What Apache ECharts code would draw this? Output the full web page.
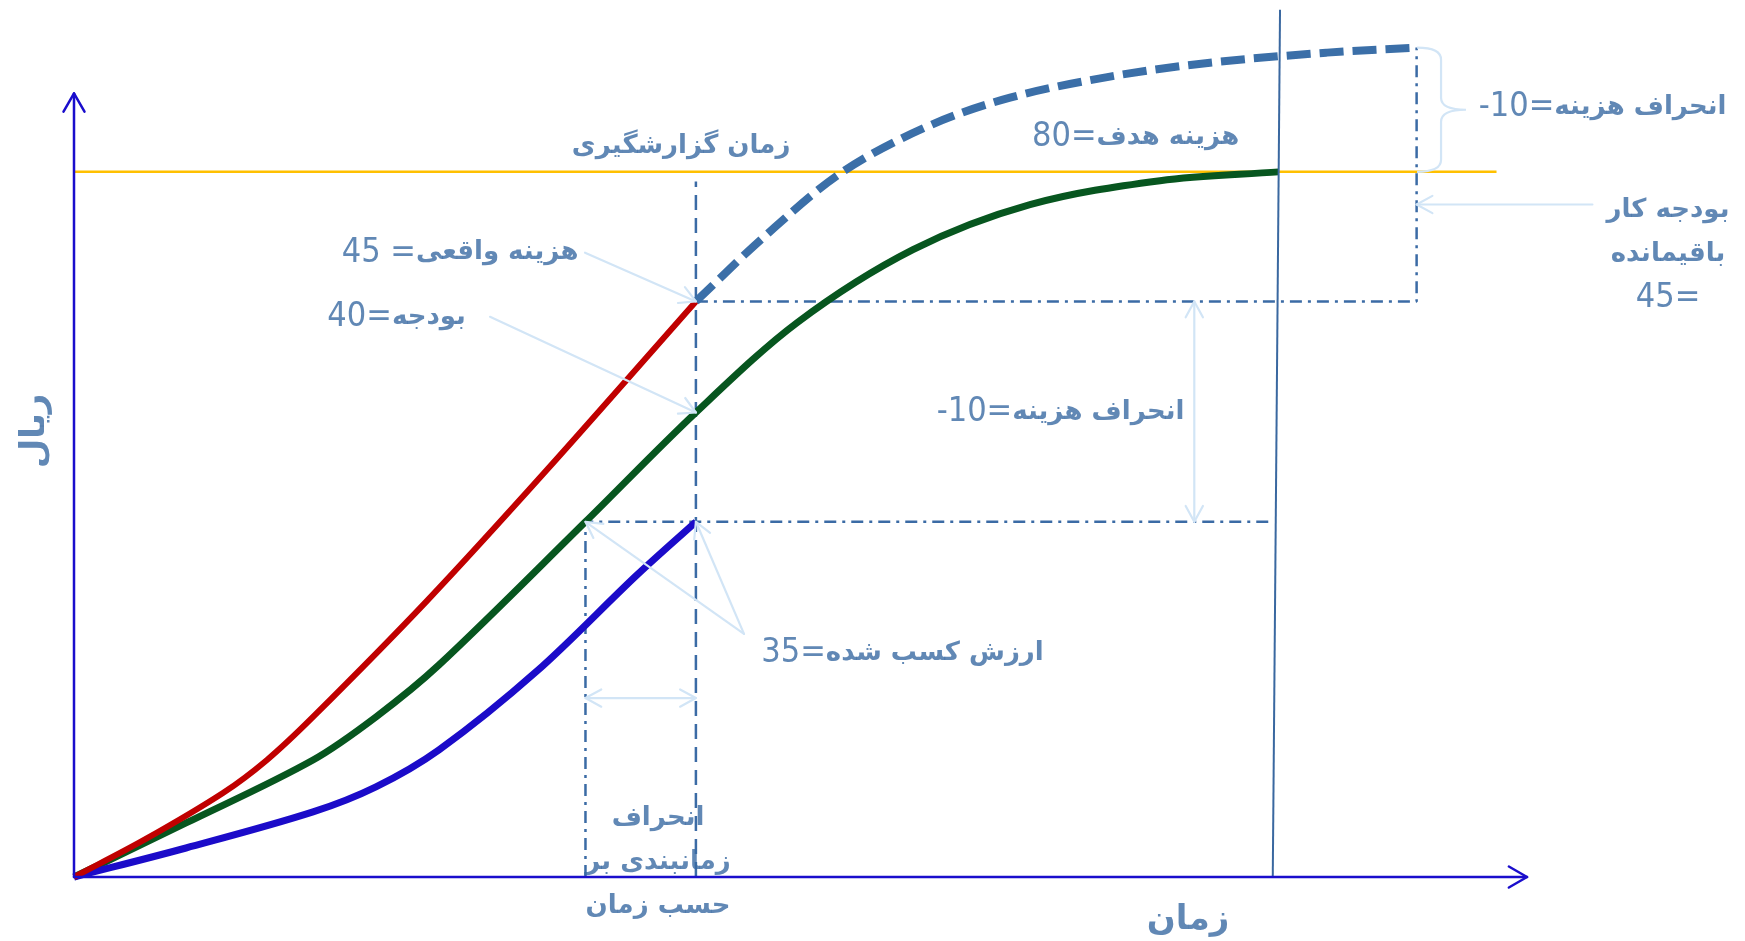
<!DOCTYPE html>
<html lang="fa">
<head>
<meta charset="utf-8">
<title>منحنی ارزش کسب شده</title>
<script src="https://cdn.jsdelivr.net/npm/echarts@6/dist/echarts.min.js"></script>
<style>
  html, body { margin: 0; padding: 0; background: #ffffff; }
  #chart { width: 1745px; height: 941px; }
</style>
</head>
<body>
<div id="chart"></div>
<script>
// Cumulative cost curves (time, rial) of an earned-value S-curve diagram
const plannedCurve = [
  [0, 0], [7.71, 6.13], [16.45, 13.28], [20.78, 18.16], [25.12, 24.06], [35.2, 40.3], [42.8, 52.7],
  [49.76, 62.88], [57.74, 71.17], [65.79, 76.28], [74.74, 79.0], [82.9, 80]
];
const actualCurve = [
  [0, 0], [4.82, 4.2], [10.25, 9.53], [13.28, 13.28], [16.45, 18.16], [24.29, 31.33], [32.55, 46.2], [42.8, 65.3]
];
const earnedCurve = [
  [0, 0], [7.71, 3.29], [16.45, 7.38], [20.78, 10.22], [25.12, 14.42], [31.87, 23.38], [38.75, 34.28], [42.8, 40.3]
];
const forecastCurve = [
  [42.8, 65.3], [47.42, 72.53], [52.72, 79.8], [58.71, 85.13], [64.42, 88.42], [71.3, 90.81],
  [78.18, 92.39], [86.24, 93.53], [92.4, 94.1]
];

// Key moments and amounts
const reportTime = 42.8;        // زمان گزارشگیری
const earnedTime = 35.2;        // time at which the plan reached the earned value
const plannedFinish = [83.0, 82.5]; // top / bottom of the finish marker
const forecastFinish = 92.4;
const targetCost = 80;          // هزینه هدف
const actualAtReport = 65.3;
const plannedAtReport = 52.7;
const earnedAtReport = 40.3;
const forecastAtFinish = 94.1;
const axisEnds = [100, 88.9];   // x / y axis arrow tips
const finishMarkerTop = 98.4;

const textColor = '#3a6aa3';
const lineBlue = '#3b6ba5';
const paleBlue = '#d2e5f6';
const axisBlue = '#1a0dcc';

function chevron(tip, from, len, ang) {
  const th = Math.atan2(tip[1] - from[1], tip[0] - from[0]);
  return [
    [tip[0] - len * Math.cos(th - ang), tip[1] - len * Math.sin(th - ang)],
    tip,
    [tip[0] - len * Math.cos(th + ang), tip[1] - len * Math.sin(th + ang)]
  ];
}

function arrowRenderer(color, width, len, ang) {
  return function (params, api) {
    const a = api.coord([api.value(0), api.value(1)]);
    const b = api.coord([api.value(2), api.value(3)]);
    const style = { stroke: color, lineWidth: width, fill: null, lineCap: 'round', lineJoin: 'round' };
    const children = [{ type: 'line', shape: { x1: a[0], y1: a[1], x2: b[0], y2: b[1] }, style: style }];
    if (api.value(4)) children.push({ type: 'polyline', shape: { points: chevron(a, b, len, ang) }, style: style });
    if (api.value(5)) children.push({ type: 'polyline', shape: { points: chevron(b, a, len, ang) }, style: style });
    return { type: 'group', children: children };
  };
}

function braceRenderer(params, api) {
  const top = api.coord([api.value(0), api.value(1)]);
  const bottom = api.coord([api.value(0), api.value(2)]);
  const tip = api.coord([api.value(3), (api.value(1) + api.value(2)) / 2]);
  const x0 = top[0], xm = x0 + 24, r = 12, yt = top[1], yb = bottom[1], ym = tip[1];
  const d = 'M' + x0 + ',' + yt + ' Q' + xm + ',' + yt + ' ' + xm + ',' + (yt + r) +
    ' L' + xm + ',' + (ym - r) + ' Q' + xm + ',' + ym + ' ' + tip[0] + ',' + ym +
    ' Q' + xm + ',' + ym + ' ' + xm + ',' + (ym + r) +
    ' L' + xm + ',' + (yb - r) + ' Q' + xm + ',' + yb + ' ' + x0 + ',' + yb;
  return { type: 'path', shape: { pathData: d }, style: { stroke: paleBlue, lineWidth: 2.2, fill: null } };
}

// Smooth curve through the given points: cubic Hermite in x with
// finite-difference slopes, written out as Bézier segments
function splineSeries(points, color, width, dash, z) {
  return {
    type: 'custom', silent: true, z: z, clip: false,
    data: points,
    renderItem: function (params, api) {
      if (params.dataIndex !== 0) return;
      const p = points.map(function (v) { return api.coord(v); });
      const n = p.length;
      const slope = p.map(function (pt, i) {
        const a = p[Math.max(i - 1, 0)], b = p[Math.min(i + 1, n - 1)];
        return (b[1] - a[1]) / (b[0] - a[0]);
      });
      let d = 'M' + p[0][0] + ',' + p[0][1];
      for (let i = 0; i < n - 1; i++) {
        const h = (p[i + 1][0] - p[i][0]) / 3;
        const c1 = [p[i][0] + h, p[i][1] + slope[i] * h];
        const c2 = [p[i + 1][0] - h, p[i + 1][1] - slope[i + 1] * h];
        d += ' C' + c1[0] + ',' + c1[1] + ' ' + c2[0] + ',' + c2[1] + ' ' + p[i + 1][0] + ',' + p[i + 1][1];
      }
      return {
        type: 'path', shape: { pathData: d },
        style: { stroke: color, lineWidth: width, fill: null, lineDash: dash || null, lineCap: 'butt', lineJoin: 'round' }
      };
    }
  };
}

function straight(points, color, width, type, z) {
  return {
    type: 'line', data: points, symbol: 'none', silent: true, z: z, clip: false,
    lineStyle: { color: color, width: width, type: type || 'solid' }
  };
}

const dashDot = [12, 6, 3, 6];

const axisArrows = [
  [0, 0, axisEnds[0], 0, 0, 1],
  [0, 0, 0, axisEnds[1], 0, 1]
];
const noteArrows = [
  [35.17, 70.83, reportTime, actualAtReport, 0, 1],
  [28.63, 63.56, reportTime, plannedAtReport, 0, 1],
  [46.11, 27.58, earnedTime, earnedAtReport, 0, 1],
  [46.11, 27.58, reportTime, earnedAtReport, 0, 1],
  [77.1, actualAtReport, 77.1, earnedAtReport, 1, 1],
  [earnedTime, 20.3, reportTime, 20.3, 1, 1],
  [104.5, 76.3, forecastFinish, 76.3, 0, 1]
];

const rich = {
  p: { fontFamily: '"DejaVu Sans"', fontWeight: 'bold', fontSize: 26, color: textColor, lineHeight: 44 },
  n: { fontFamily: '"Liberation Sans Narrow", "DejaVu Sans Condensed", sans-serif', fontSize: 34, color: textColor, lineHeight: 44 },
  big: { fontFamily: '"DejaVu Sans"', fontWeight: 'bold', fontSize: 34, color: textColor }
};

const notes = [
  { at: [41.78, 82.86], text: '{p|زمان گزارشگیری}' },
  { at: [26.57, 70.83], text: '{n|45 =}{p|هزینه واقعی}' },
  { at: [22.2, 63.56], text: '{n|40=}{p|بودجه}' },
  { at: [73.06, 83.9], text: '{n|80=}{p|هزینه هدف}' },
  { at: [105.2, 87.29], text: '{n|-10=}{p|انحراف هزینه}' },
  { at: [67.89, 52.78], text: '{n|-10=}{p|انحراف هزینه}' },
  { at: [109.7, 70.69], text: '{p|بودجه کار}\n{p|باقیمانده}\n{n|45=}' },
  { at: [57.02, 25.43], text: '{n|35=}{p|ارزش کسب شده}' },
  { at: [40.19, 1.7], text: '{p|انحراف}\n{p|زمانبندی بر}\n{p|حسب زمان}' },
  { at: [76.67, -4.9], text: '{big|زمان}' },
  { at: [-2.68, 50.6], text: '{big|ریال}', rotate: 90 }
];

const chart = echarts.init(document.getElementById('chart'), null, { renderer: 'canvas' });
chart.setOption({
  animation: false,
  backgroundColor: '#ffffff',
  grid: { left: 74, right: 0, top: 0, bottom: 64, outerBoundsMode: 'none' },
  xAxis: { type: 'value', min: 0, max: 115, show: false },
  yAxis: { type: 'value', min: 0, max: 99.5, show: false },
  series: [
    straight([[0, targetCost], [97.9, targetCost]], '#ffc000', 2.5, 'solid', 1),
    straight([[reportTime, 0], [reportTime, 78.9]], lineBlue, 2.5, [15, 8], 2),
    straight([[reportTime, actualAtReport], [forecastFinish, actualAtReport], [forecastFinish, forecastAtFinish]], lineBlue, 2.5, dashDot, 2),
    straight([[earnedTime, 0], [earnedTime, earnedAtReport], [plannedFinish[1] - 0.1, earnedAtReport]], lineBlue, 2.5, dashDot, 2),
    splineSeries(plannedCurve, '#07561f', 7, null, 3),
    splineSeries(earnedCurve, '#1b0bc9', 7, null, 3),
    splineSeries(actualCurve, '#c00000', 6, null, 3),
    splineSeries(forecastCurve, '#3b6fa8', 8, [24, 9], 3),
    straight([[plannedFinish[0], finishMarkerTop], [plannedFinish[1], 0]], '#3a68a0', 2, 'solid', 4),
    {
      type: 'custom', silent: true, z: 5, clip: false,
      renderItem: arrowRenderer(axisBlue, 2.5, 21, Math.PI / 6),
      data: axisArrows
    },
    {
      type: 'custom', silent: true, z: 6, clip: false,
      renderItem: arrowRenderer(paleBlue, 2.2, 18, 0.5),
      data: noteArrows
    },
    {
      type: 'custom', silent: true, z: 6, clip: false,
      renderItem: braceRenderer,
      data: [[forecastFinish + 0.03, forecastAtFinish, targetCost, 95.8]]
    },
    {
      type: 'scatter', silent: true, z: 7, clip: false, symbolSize: 0,
      data: notes.map(function (t) {
        return {
          value: t.at,
          label: { show: true, position: 'inside', align: 'center', verticalAlign: 'middle', rotate: t.rotate || 0, formatter: t.text, rich: rich }
        };
      })
    }
  ]
});
</script>
</body>
</html>
